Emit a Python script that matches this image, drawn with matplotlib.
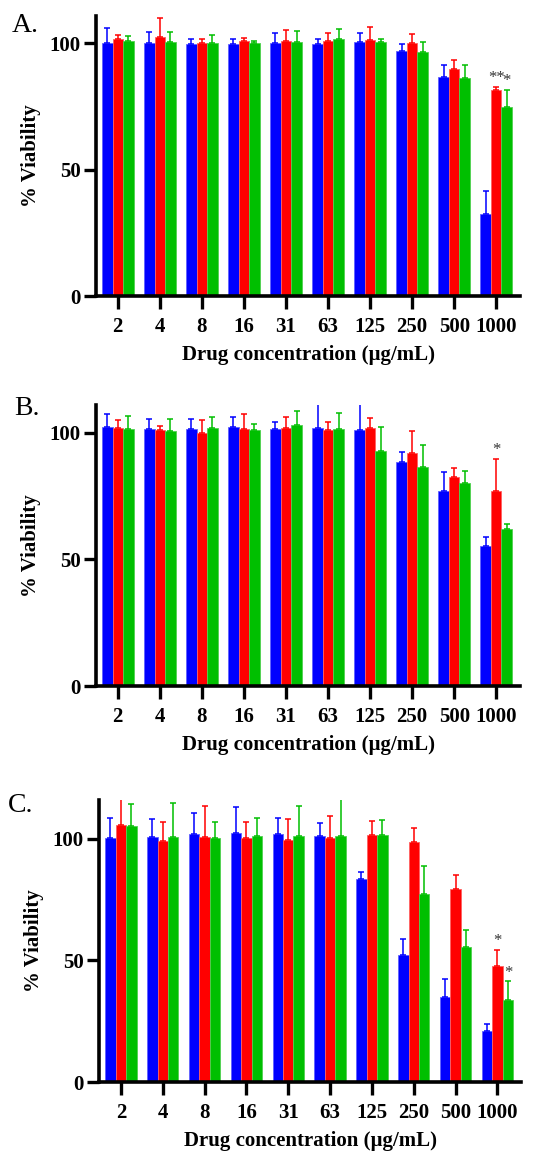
import matplotlib
matplotlib.use("Agg")
import matplotlib.pyplot as plt
import numpy as np

plt.rcParams['font.family'] = ['Liberation Serif', 'DejaVu Serif']

concentrations = ["2", "4", "8", "16", "31", "63", "125", "250", "500", "1000"]

# Panel A
a_blue = [100.0, 100.0, 99.6, 99.7, 100.0, 99.7, 100.3, 96.7, 86.5, 32.6]
a_blue_err = [5.8, 4.2, 2.2, 1.8, 4.1, 1.8, 3.5, 2.9, 4.7, 8.9]
a_red = [101.5, 102.5, 100.1, 100.8, 100.8, 101.0, 101.2, 99.9, 89.7, 81.6]
a_red_err = [1.7, 7.3, 1.6, 1.3, 4.2, 3.1, 5.0, 3.5, 3.8, 1.1]
a_green = [101.0, 100.3, 100.1, 99.9, 100.3, 101.5, 100.4, 96.6, 86.1, 74.6]
a_green_err = [1.6, 3.9, 2.9, 1.1, 4.3, 4.0, 1.4, 3.7, 5.1, 6.8]

# Panel B
b_blue = [102.1, 101.6, 101.7, 102.4, 101.6, 101.8, 101.1, 88.4, 77.0, 55.4]
b_blue_err = [5.4, 3.7, 3.8, 3.7, 2.5, 9.5, 11.5, 4.2, 7.6, 3.4]
b_red = [101.8, 101.2, 100.1, 101.6, 102.0, 101.3, 101.8, 92.2, 82.6, 77.0]
b_red_err = [3.1, 1.4, 4.8, 5.8, 4.2, 2.9, 3.9, 8.7, 3.4, 12.7]
b_green = [101.7, 100.8, 102.0, 101.3, 103.0, 101.6, 92.9, 86.3, 80.3, 62.1]
b_green_err = [4.9, 4.5, 4.2, 2.1, 5.8, 6.1, 9.3, 8.7, 4.7, 1.8]

# Panel C
c_blue = [100.3, 100.7, 101.9, 102.3, 101.9, 101.1, 83.4, 52.2, 35.1, 20.8]
c_blue_err = [8.5, 7.7, 8.6, 10.9, 6.9, 5.6, 3.2, 6.8, 7.2, 2.9]
c_red = [105.6, 99.0, 100.8, 100.3, 99.5, 100.3, 101.5, 98.6, 79.6, 47.8]
c_red_err = [11.0, 8.1, 12.8, 6.8, 8.9, 9.2, 5.9, 5.8, 5.7, 6.6]
c_green = [105.3, 100.8, 100.4, 101.4, 101.4, 101.4, 101.8, 77.3, 55.5, 33.8]
c_green_err = [8.9, 14.1, 6.6, 7.4, 12.0, 15.0, 6.1, 11.7, 7.0, 7.6]

panels = [
    dict(letter="A.", blue=a_blue, be=a_blue_err, red=a_red, re=a_red_err,
         green=a_green, ge=a_green_err, ylim=110.7,
         stars=[("red", 9, "**"), ("green", 9, "*")],
         rect=[0.180, 0.7448, 0.796, 0.2414], letter_xy=(0.022, 0.972)),
    dict(letter="B.", blue=b_blue, be=b_blue_err, red=b_red, re=b_red_err,
         green=b_green, ge=b_green_err, ylim=111.0,
         stars=[("red", 9, "*")],
         rect=[0.180, 0.4086, 0.796, 0.2423], letter_xy=(0.026, 0.642)),
    dict(letter="C.", blue=c_blue, be=c_blue_err, red=c_red, re=c_red_err,
         green=c_green, ge=c_green_err, ylim=116.0,
         stars=[("red", 9, "*"), ("green", 9, "*")],
         rect=[0.186, 0.0672, 0.792, 0.2431], letter_xy=(0.015, 0.300)),
]

colors = {"blue": "#0000FF", "red": "#FF0000", "green": "#00BF00"}
edge = {"blue": "#6060FF", "red": "#FF6060", "green": "#50D050"}

fig = plt.figure(figsize=(5.33, 11.6), dpi=100)
x = np.arange(len(concentrations))
w = 0.25

for p in panels:
    ax = fig.add_axes(p["rect"])
    series = [("blue", p["blue"], p["be"], -w), ("red", p["red"], p["re"], 0.0),
              ("green", p["green"], p["ge"], w)]
    tops = {}
    for name, vals, errs, off in series:
        vals = np.array(vals); errs = np.array(errs)
        ax.bar(x + off, vals, width=w, color=colors[name], edgecolor=edge[name],
               linewidth=0.6, zorder=2)
        ax.errorbar(x + off, vals, yerr=[np.zeros_like(errs), errs], fmt='none',
                    ecolor=colors[name], elinewidth=1.1, capsize=2.0, capthick=1.1,
                    zorder=3, clip_on=True)
        tops[name] = (x + off, vals + errs)
    for name, idx, s in p["stars"]:
        xs, ys = tops[name]
        ax.text(xs[idx], ys[idx] + 0.3, s, ha='center', va='bottom',
                fontsize=12, color='#333333')
    ax.set_xlim(-0.52, 9.57)
    ax.set_ylim(0, p["ylim"])
    ax.set_yticks([0, 50, 100])
    ax.set_xticks(x)
    ax.set_xticklabels(concentrations)
    for lab in ax.get_xticklabels() + ax.get_yticklabels():
        lab.set_fontweight('bold')
        lab.set_fontsize(15)
    ax.tick_params(axis='both', direction='out', width=2.4, length=9, pad=2)
    ax.tick_params(axis='x', pad=6)
    for side in ["top", "right"]:
        ax.spines[side].set_visible(False)
    for side in ["left", "bottom"]:
        ax.spines[side].set_linewidth(2.6)
    ax.set_ylabel("% Viability", fontsize=15, fontweight='bold', labelpad=6)
    ax.set_xlabel("Drug concentration (µg/mL)", fontsize=15, fontweight='bold',
                  labelpad=6)
    fig.text(p["letter_xy"][0], p["letter_xy"][1], p["letter"], fontsize=20,
             ha='left', va='baseline')

fig.savefig("out.png", dpi=100)
